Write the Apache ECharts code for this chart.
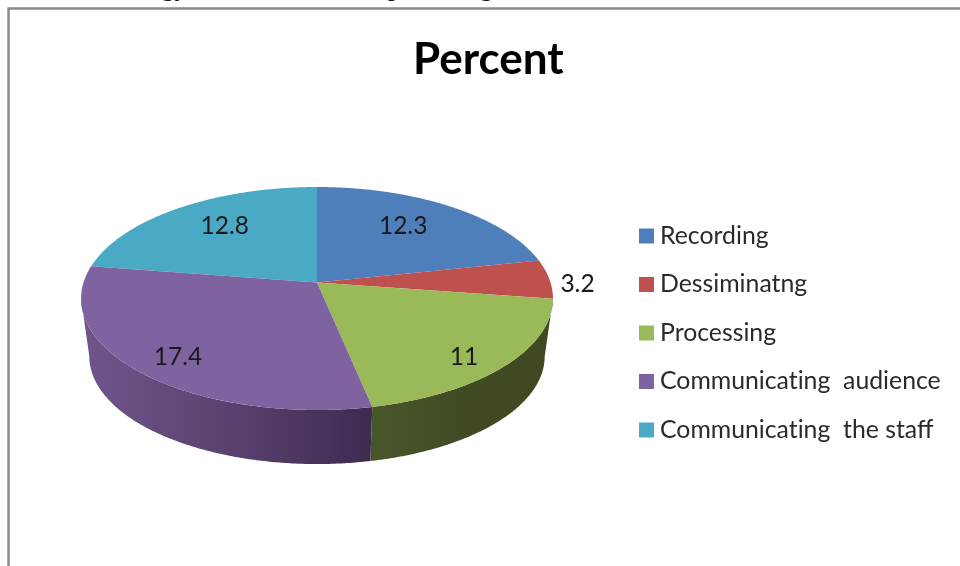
<!DOCTYPE html>
<html><head><meta charset="utf-8">
<style>html,body{margin:0;padding:0;background:#fff}#c{width:960px;height:566px}</style>
<script src="https://cdn.jsdelivr.net/npm/echarts@6/dist/echarts.min.js"></script>
</head><body><div id="c"></div>
<script>
// Data
const titleText = 'Percent';
const categories = ['Recording', 'Dessiminatng', 'Processing', 'Communicating  audience', 'Communicating  the staff'];
const values = [12.3, 3.2, 11, 17.4, 12.8];
// Style
const topColors = ['#4f7fba', '#be504d', '#9aba59', '#7f63a1', '#4aaac5'];
const wallStops = [null, null, ['#49562a', '#404b23', '#3f4a22'], ['#70558b', '#5a4270', '#3e2b50'], null];
// Projection of the tilted disc (perspective)
const disc = { cx: 317, cy: 282.5, B: 233.5, A: 109.2, k: 0.1435 };
const floor = { scale: 0.965, cy: 341 };
const labelFrac = [0.65, 1.1, 0.65, 0.65, 0.65];
const labelShift = [[-3, -5], [5, 5], [29, 23], [-27, 19], [0, -6]];

const total = values.reduce((a, b) => a + b, 0);
let acc = 0;
const spans = values.map(v => { const s = acc; acc += v; return [s / total * 2 * Math.PI, acc / total * 2 * Math.PI]; });

function proj(theta, f, level) {
  const u = Math.sin(theta) * f, v = Math.cos(theta) * f, d = 1 + disc.k * v;
  const s = level ? floor.scale : 1, cy = level ? floor.cy : disc.cy;
  return [disc.cx + s * disc.B * u / d, cy - s * disc.A * v / d];
}
function arc(a, b, level) {
  const n = Math.max(2, Math.ceil((b - a) / 0.01)), pts = [];
  for (let i = 0; i <= n; i++) pts.push(proj(a + (b - a) * i / n, 1, level));
  return pts;
}
const tangent = Math.acos(-disc.k); // where the rim turns over, right side
function wallRange(a, b) {
  const lo = Math.max(a, tangent), hi = Math.min(b, 2 * Math.PI - tangent);
  return hi > lo ? [lo, hi] : null;
}

const makeRender = idx => function (params, api) {
  const a = api.value(1), b = api.value(2);
  const children = [];
  const w = wallRange(a, b);
  if (w && wallStops[idx]) {
    const top = arc(w[0], w[1], 0), bottom = arc(w[0], w[1], 1).reverse();
    const stops = wallStops[idx];
    children.push({ type: 'polygon', shape: { points: top.concat(bottom) }, z2: 1,
      style: { fill: { type: 'linear', x: 0, y: 0, x2: 1, y2: 0,
        colorStops: stops.map((color, i) => ({ offset: i / (stops.length - 1), color })) } } });
  }
  const pts = [[disc.cx, disc.cy]].concat(arc(a, b, 0));
  children.push({ type: 'polygon', shape: { points: pts }, z2: 2, style: { fill: topColors[idx] } });
  const p = proj((a + b) / 2, labelFrac[idx], 0);
  children.push({ type: 'text', z2: 3, x: p[0] + labelShift[idx][0], y: p[1] + labelShift[idx][1],
    style: { text: String(api.value(0)), fill: '#1a1a1a', font: '24.5px Lato', align: 'center', verticalAlign: 'middle' } });
  return { type: 'group', children };
};

const chart = echarts.init(document.getElementById('c'));
chart.setOption({
  animation: false,
  backgroundColor: '#fff',
  title: { text: titleText, left: 408, top: 33,
    textStyle: { fontFamily: 'Lato', fontSize: 44, fontWeight: 'bold', color: '#000' } },
  legend: { orient: 'vertical', left: 634, top: 218.5, icon: 'rect', itemWidth: 15, itemHeight: 15, itemGap: 23.5,
    data: categories, selectedMode: false,
    formatter: n => n.replace(/ti/g, 't\u200ci'),
    textStyle: { fontFamily: 'Lato', fontSize: 24.8, color: '#2a2a2a', padding: [0, 0, 0, 1] } },
  xAxis: { show: false, min: 0, max: 960 }, yAxis: { show: false, min: 0, max: 566 },
  grid: { left: 0, right: 0, top: 0, bottom: 0 },
  color: topColors,
  graphic: [
    { type: 'polyline', shape: { points: [[8.5, 566], [8.5, 8.5], [960, 8.5]] }, style: { stroke: '#8a8a8a', lineWidth: 2.5, fill: null } },
    { type: 'text', x: 188, y: -26, style: { text: 'technology', fill: '#111', align: 'right', verticalAlign: 'top', font: '27px "Liberation Serif"' } },
    { type: 'text', x: 388, y: -26, style: { text: 'percentage', fill: '#111', align: 'left', verticalAlign: 'top', font: '27px "Liberation Serif"' } }
  ],
  series: categories.map((name, i) => ({
    type: 'custom', name, coordinateSystem: 'none', renderItem: makeRender(i), silent: true,
    z: i === 3 || i === 2 ? 3 : 2,
    itemStyle: { color: topColors[i] },
    data: [{ name, value: [values[i], spans[i][0], spans[i][1]] }]
  }))
});
</script></body></html>
